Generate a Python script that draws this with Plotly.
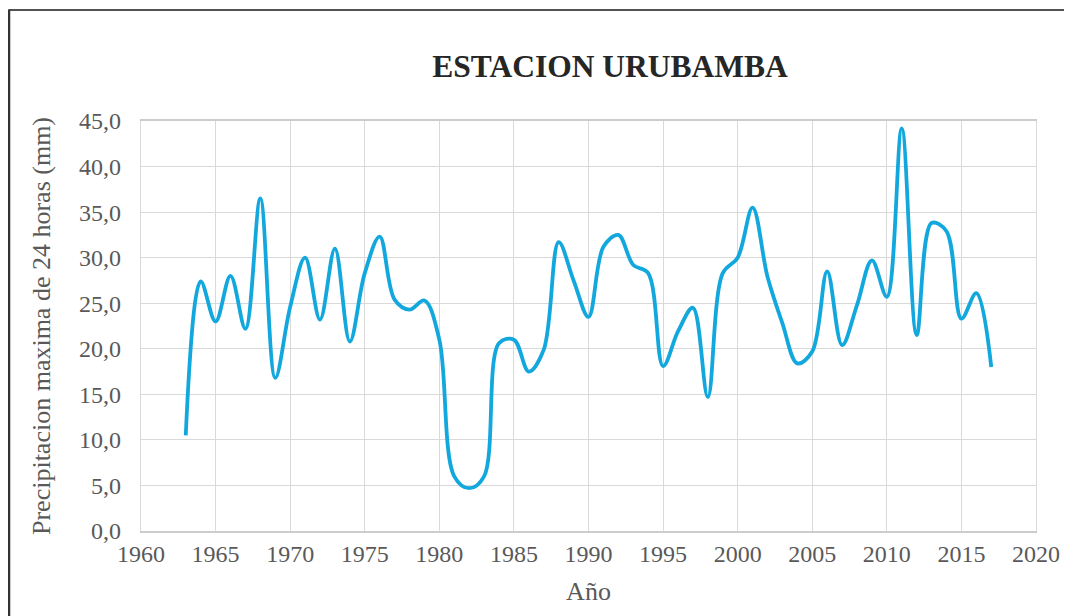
import plotly.graph_objects as go

years = list(range(1963, 2018))
precip = [10.5, 27.4, 23.0, 28.0, 22.2, 36.5, 16.8, 24.6, 30.0, 23.2,
          31.0, 20.8, 28.3, 32.3, 25.4, 24.3, 25.3, 21.0, 6.0, 4.7,
          6.0, 20.6, 21.0, 17.5, 19.9, 31.7, 27.5, 23.5, 31.2, 32.5,
          29.2, 28.3, 18.1, 21.9, 24.5, 14.7, 28.3, 30.0, 35.5, 27.9,
          22.8, 18.4, 19.7, 28.5, 20.4, 24.8, 29.7, 25.7, 44.2, 21.5,
          33.8, 32.9, 23.3, 26.1, 18.0]

x_ticks = list(range(1960, 2021, 5))
y_ticks = [0, 5, 10, 15, 20, 25, 30, 35, 40, 45]
y_tick_labels = [f"{v:.1f}".replace(".", ",") for v in y_ticks]

title_text = "ESTACION URUBAMBA"
x_title = "Año"
y_title = "Precipitacion maxima de 24 horas (mm)"

FONT = "Liberation Serif, Times New Roman, serif"

fig = go.Figure()
fig.add_trace(go.Scatter(
    x=years, y=precip, mode="lines",
    line=dict(color="#12a8dd", width=3.8, shape="spline", smoothing=1.0),
    hoverinfo="x+y", showlegend=False,
))

# page has an 8px body margin; figure coordinates are offset by 8px
OFF = 8
W, H = 1064, 608
L, R, T, B = 141 - OFF, 36, 121 - OFF, 85
pw, ph = W - L - R, H - T - B

fig.update_layout(
    width=W, height=H,
    margin=dict(l=L, r=R, t=T, b=B),
    paper_bgcolor="white", plot_bgcolor="white",
    font=dict(family=FONT, color="#595959"),
    title=dict(text=f"<b>{title_text}</b>", x=(610 - OFF) / W, xanchor="center",
               y=1 - (66 - OFF) / H, yanchor="middle",
               font=dict(family=FONT, size=31.5, color="#262626")),
    xaxis=dict(
        range=[1960, 2020], tickvals=x_ticks, ticktext=[str(v) for v in x_ticks],
        showgrid=True, gridcolor="#d9d9d9", gridwidth=1.3,
        showline=True, linecolor="#cccccc", linewidth=1.5, mirror=True,
        zeroline=False, ticks="", ticklabelstandoff=0,
        tickfont=dict(family=FONT, size=24, color="#595959"),
        title=dict(text=x_title, font=dict(family=FONT, size=26, color="#595959"), standoff=16),
    ),
    yaxis=dict(
        range=[0, 45], tickvals=y_ticks, ticktext=y_tick_labels,
        showgrid=True, gridcolor="#d9d9d9", gridwidth=1.3,
        showline=True, linecolor="#d9d9d9", linewidth=1.3, mirror=True,
        zeroline=False, ticks="", ticklabelstandoff=14,
        tickfont=dict(family=FONT, size=24, color="#595959"),
        title=dict(text=y_title, font=dict(family=FONT, size=26, color="#595959"), standoff=20),
    ),
)

# outer frame of the chart object
fig.add_shape(type="rect", xref="paper", yref="paper",
              x0=(9 - 141) / pw, x1=(1090 - 141) / pw,
              y0=(531 - 640) / ph, y1=(531 - 10) / ph,
              line=dict(color="#1a1a1a", width=1.5), layer="below")
fig.add_shape(type="line", xref="paper", yref="paper",
              x0=(9 - 141) / pw, x1=(9 - 141) / pw,
              y0=(531 - 640) / ph, y1=(531 - 10) / ph,
              line=dict(color="#333333", width=2.5), layer="below")

fig.write_html("out.html")
